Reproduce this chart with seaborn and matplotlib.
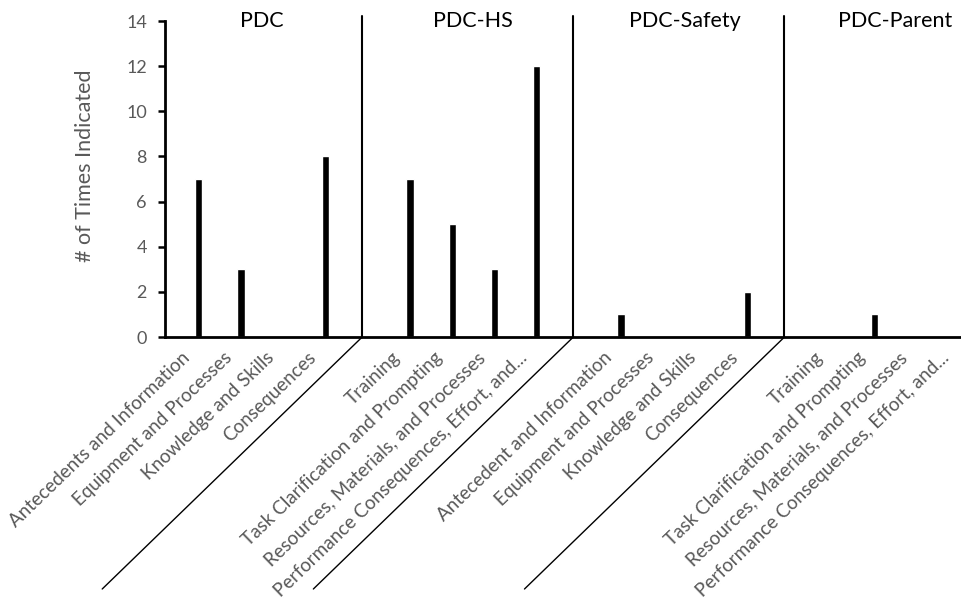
import matplotlib
matplotlib.use("Agg")
import matplotlib.pyplot as plt
import matplotlib.transforms as mtransforms
import seaborn as sns
import pandas as pd
from matplotlib.lines import Line2D

groups = ["PDC", "PDC-HS", "PDC-Safety", "PDC-Parent"]
categories = [
    ["Antecedents and Information", "Equipment and Processes", "Knowledge and Skills", "Consequences"],
    ["Training", "Task Clarification and Prompting", "Resources, Materials, and Processes",
     "Performance Consequences, Effort, and..."],
    ["Antecedent and Information", "Equipment and Processes", "Knowledge and Skills", "Consequences"],
    ["Training", "Task Clarification and Prompting", "Resources, Materials, and Processes",
     "Performance Consequences, Effort, and..."],
]
values = [
    [7, 3, 0, 8],
    [7, 5, 3, 12],
    [1, 0, 0, 2],
    [0, 1, 0, 0],
]
yticks = [0, 2, 4, 6, 8, 10, 12, 14]

rows = []
for g, (grp, cats, vals) in enumerate(zip(groups, categories, values)):
    for i, (c, v) in enumerate(zip(cats, vals)):
        rows.append({"group": grp, "category": c, "pos": g * 5 + i, "value": v})
df = pd.DataFrame(rows)

sns.set_theme(style="white")
plt.rcParams["font.family"] = ["Lato", "DejaVu Sans"]

fig = plt.figure(figsize=(9.61, 6.05), dpi=100)
ax = fig.add_axes([165 / 961, 1 - 337 / 605, 1 - 165 / 961, (337 - 21) / 605])

sns.barplot(data=df, x="pos", y="value", native_scale=True, color="black",
            width=0.17, ax=ax, saturation=1)

ax.set_xlim(-0.8, 18.05)
ax.set_ylim(0, 14)
ax.set_yticks(yticks)
ax.set_yticklabels([str(t) for t in yticks], color="#595959", fontsize=13)
ax.set_xticks([])
ax.tick_params(axis="y", length=5, width=1.8, color="black", direction="out", left=True, pad=8)
ax.set_xlabel("")
ax.set_ylabel("")
for s in ["top", "right"]:
    ax.spines[s].set_visible(False)
for s in ["left", "bottom"]:
    ax.spines[s].set_color("black")
    ax.spines[s].set_linewidth(2)

# category labels, anchored at each bar position on the x axis
offset = mtransforms.ScaledTranslation(-12 / 100, -18 / 100, fig.dpi_scale_trans)
for p, c in zip(df["pos"], df["category"]):
    ax.text(p, 0, c, transform=ax.get_xaxis_transform() + offset, rotation=44,
            ha="right", va="center", rotation_mode="anchor", color="#595959",
            fontsize=13.6, clip_on=False)

fig.text(85 / 961, 1 - 166 / 605, "# of Times Indicated", rotation=90, ha="center",
         va="center", color="#595959", fontsize=15.5)

# group separators and labels
seps = [g * 5 + 3.87 for g in range(len(groups) - 1)]
for s in seps:
    ax.plot([s, s], [0, 14.2], color="black", lw=1.5, clip_on=False)
inv = fig.transFigure.inverted()
for s in seps:
    x0, y0 = ax.transData.transform((s, 0))
    p0 = inv.transform((x0, y0))
    p1 = inv.transform((x0 - 260, y0 - 252))
    fig.add_artist(Line2D([p0[0], p1[0]], [p0[1], p1[1]], color="black", lw=1.0))

for g, grp in enumerate(groups):
    center = g * 5 + 1.5
    ax.text(center, 14, grp, ha="center", va="center", color="black", fontsize=15.5)

fig.savefig("out.png", dpi=100)
